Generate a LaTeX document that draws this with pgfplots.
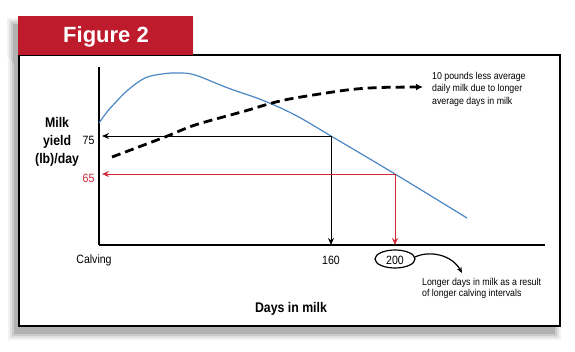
\documentclass[border=0pt]{standalone}
\usepackage{pgfplots}
\pgfplotsset{compat=1.18}
\usepackage{fontspec}
\setmainfont{Liberation Sans}[FakeStretch=0.88]
\newfontfamily\headfont{Liberation Sans}
\usetikzlibrary{arrows.meta}
\pgfdeclarelayer{background}
\pgfsetlayers{background,main}
\definecolor{hdrred}{RGB}{190,28,45}
\definecolor{linered}{RGB}{210,40,55}
\definecolor{curveblue}{RGB}{75,135,195}
\begin{document}
\begin{tikzpicture}
\begin{axis}[
  scale only axis,
  width=446pt, height=178pt,
  xmin=15, xmax=293.75, ymin=46.32, ymax=93.16,
  axis x line*=bottom, axis y line*=left,
  axis line style={line width=1.2pt,-},
  xtick={15,160,200}, xticklabels={\hspace*{-10pt}Calving,160,200},
  ytick={65,75}, yticklabels={\textcolor{linered}{65},75},
  major tick length=0pt,
  tick label style={font=\fontsize{12}{12}\selectfont},
  xticklabel style={anchor=center,yshift=-15pt},
  yticklabel style={anchor=east,yshift=-4pt,xshift=-1pt},
  xlabel={Days in milk},
  xlabel style={at={(axis description cs:0.4305,-0.36)},anchor=center,font=\bfseries\fontsize{14}{14}\selectfont},
  ylabel={Milk\\yield\\(lb)/day},
  ylabel style={at={(axis description cs:-0.094,0.579)},anchor=center,rotate=-90,align=center,font=\bfseries\fontsize{14}{18}\selectfont},
  clip=false,
]
\coordinate (O) at (rel axis cs:0,0);
% lactation curve
\addplot[curveblue,line width=1.2pt,smooth,tension=0.6] coordinates {
 (15,78.42) (20,81.32) (25,83.68) (33.1,87.11) (43.75,90.26) (54.4,91.32)
 (64.4,91.58) (75,91.05) (95.6,87.63) (116.9,84.47) (137.5,80.53)
 (160,75) (200,65) (245,53.42)};
% average daily milk curve
\addplot[black,line width=2.8pt,dash pattern=on 9pt off 5pt,smooth,tension=0.5,
  -{Latex[length=7pt,width=7pt]}] coordinates {
 (23.13,69.47) (56.25,74.74) (75,77.89) (106.25,81.58) (123.1,83.68) (137.5,85)
 (170,87.11) (190.6,87.76) (217.5,87.89)};
% reading lines
\addplot[black,line width=1pt,-{Stealth[length=7pt,width=6pt]}] coordinates {(160,75) (16.9,75)};
\addplot[black,line width=1pt,-{Stealth[length=7pt,width=6pt]}] coordinates {(160,75) (160,46.32)};
\addplot[linered,line width=1pt,-{Stealth[length=7pt,width=6pt]}] coordinates {(200,65) (16.9,65)};
\addplot[linered,line width=1pt,-{Stealth[length=7pt,width=6pt]}] coordinates {(200,65) (200,46.32)};
\end{axis}

\begin{scope}[shift={(O)},x=1pt,y=1pt]
\begin{scope}[shift={(-99,-107)}]
\path[use as bounding box] (0,0) rectangle (575,352);
\begin{pgfonlayer}{background}
\fill[white] (0,0) rectangle (575,352);
\foreach \d/\o in {6/0.05,4/0.07,2/0.09,0/0.12} {
  \fill[black,opacity=\o] (14-\d,18-\d) rectangle (555+\d,289+\d);
  \fill[black,opacity=\o] (13-\d,289+\d) rectangle (188+\d,328+\d);
}
\fill[white] (19,26) rectangle (560,297);
\end{pgfonlayer}
\draw[line width=1.5pt] (19,26) rectangle (560,297);
\fill[hdrred] (18,297) rectangle (193,336);
\node[white,font=\headfont\bfseries\fontsize{22}{22}\selectfont] at (106,315) {Figure 2};

\draw[line width=1.2pt] (395,93) ellipse [x radius=20, y radius=9];
\draw[line width=1.2pt,-{Stealth[length=6pt,width=5pt]}] (415,95) .. controls (430,102) and (452,97) .. (462,79);

\node[anchor=north west,align=left,inner sep=0pt,font=\fontsize{10}{12.5}\selectfont] at (432,280)
 {10 pounds less average\\daily milk due to longer\\average days in milk};
\node[anchor=north west,align=left,inner sep=0pt,font=\fontsize{10}{11}\selectfont] at (422,74)
 {Longer days in milk as a result\\of longer calving intervals};
\end{scope}
\end{scope}
\end{tikzpicture}
\end{document}
